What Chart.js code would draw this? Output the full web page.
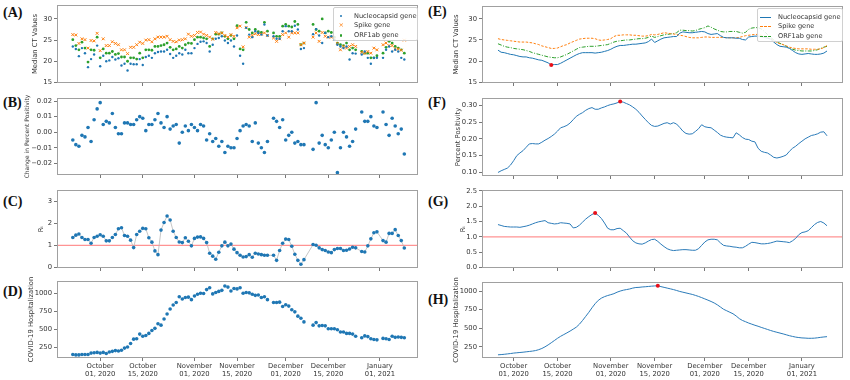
<!DOCTYPE html>
<html>
<head>
<meta charset="utf-8">
<script src="https://cdn.jsdelivr.net/npm/chart.js@4.4.0/dist/chart.umd.min.js"></script>
<style>
  html, body { margin: 0; padding: 0; background: #ffffff; }
  #wrap { position: relative; width: 850px; height: 380px; overflow: hidden; background: #fff; }
  canvas { position: absolute; }
  .lbl { position: absolute; font-family: "Liberation Serif", "Times New Roman", serif; font-weight: bold; font-size: 14px; color: #111; line-height: 14px; }
  .leg { position: absolute; background: rgba(255,255,255,0.85); border: 1px solid #d0d0d0; border-radius: 2px;
         font-family: "DejaVu Sans", sans-serif; font-size: 6.6px; color: #333; box-sizing: border-box; }
  .row { position: absolute; left: 0; height: 9px; line-height: 9px; white-space: nowrap; }
  .row .t { position: absolute; left: 20px; top: 0; }
  .mk { position: absolute; }
</style>
</head>
<body>
<div id="wrap">
  <div class="lbl" style="left:3px;top:6px">(A)</div>
  <div class="lbl" style="left:3px;top:96px">(B)</div>
  <div class="lbl" style="left:3px;top:195px">(C)</div>
  <div class="lbl" style="left:3px;top:285px">(D)</div>
  <div class="lbl" style="left:428px;top:5px">(E)</div>
  <div class="lbl" style="left:428px;top:96px">(F)</div>
  <div class="lbl" style="left:428px;top:195px">(G)</div>
  <div class="lbl" style="left:428px;top:293px">(H)</div>
</div>
<script>
// ---------------- DATA ----------------
// x positions: days relative to 2020-10-01
const TICK_DAYS = [0, 14, 31, 45, 61, 75, 92];
const TICK_LABELS = [["October","01, 2020"],["October","15, 2020"],["November","01, 2020"],["November","15, 2020"],["December","01, 2020"],["December","15, 2020"],["January","01, 2021"]];

// daily observations (left column), Sep 22 2020 .. Jan 9 2021
const daysObs = [-9,-8,-7,-6,-5,-4,-3,-2,-1,0,1,2,3,4,5,6,7,8,9,10,11,12,13,14,15,16,17,18,19,20,21,22,23,24,25,26,27,28,29,30,31,32,33,34,35,36,37,38,39,40,41,42,43,44,45,46,47,48,49,50,51,52,53,54,55,56,57,58,59,60,61,62,63,64,65,66,67,68,69,70,71,72,73,74,75,76,77,78,79,80,81,82,83,84,85,86,87,88,89,90,91,92,93,94,95,96,97,98,99,100];

const ctNucleocapsid = [23.5,22.9,21.2,23.1,21.9,18.6,20.5,21.6,23.7,18.8,21.3,20.0,20.2,21.0,20.4,20.7,19.0,19.4,17.8,19.4,19.3,19.3,20.5,19.1,21.0,21.3,20.8,21.9,22.2,22.3,22.3,22.7,21.7,20.8,21.3,21.9,21.6,22.7,21.9,21.9,23.1,24.1,24.6,24.7,24.3,22.3,23.9,25.3,25.5,25.9,24.9,24.3,24.9,23.5,26.1,21.3,19.4,27.9,26.3,25.7,27.1,26.7,26.3,28.7,26.1,null,25.9,25.3,25.3,27.1,28.3,27.1,27.1,28.4,27.5,22.9,23.1,null,null,26.4,27.6,26.1,24.3,26.7,25.7,25.9,25.1,23.9,23.5,23.1,23.5,20.4,21.9,21.8,null,21.6,22.3,20.8,19.4,20.8,20.8,null,20.8,22.7,23.5,22.3,22.7,22.3,20.8,20.4];
const ctSpike = [26.3,26.2,24.2,25.3,25.1,23.1,24.9,24.8,26.6,22.5,25.3,23.7,23.7,24.6,24.2,23.9,22.7,22.7,21.8,23.3,23.3,23.9,24.5,24.2,25.0,25.1,24.6,25.3,25.7,25.7,25.7,25.9,25.1,24.7,24.6,25.0,25.1,25.3,26.4,25.9,26.1,26.8,26.9,26.4,26.1,25.7,25.2,26.8,26.5,26.7,26.1,25.7,26.3,25.9,27.9,28.3,23.4,28.0,25.7,26.1,26.5,26.3,26.4,26.7,26.1,null,25.5,24.7,25.3,26.3,26.7,25.7,26.7,26.7,26.7,23.9,24.3,null,null,25.7,26.7,24.7,26.8,25.9,25.7,25.7,25.3,24.2,22.7,23.5,23.1,23.5,23.9,23.5,null,22.1,21.9,22.3,21.9,23.1,22.7,null,23.9,24.3,23.7,23.7,22.9,22.9,22.6,25.0];
const ctOrf1ab = [25.1,23.7,22.7,24.5,23.1,19.8,22.7,22.6,25.7,20.8,22.9,21.9,21.9,22.3,21.6,21.8,21.0,21.0,20.0,20.8,20.8,20.5,21.9,20.8,22.7,22.7,22.6,23.5,23.5,23.7,23.9,24.3,23.3,22.7,22.9,23.5,23.1,23.9,24.3,24.2,25.1,25.7,25.7,25.5,25.3,23.5,25.3,26.4,26.4,26.7,25.9,25.3,26.1,25.3,28.4,22.9,22.7,29.2,27.5,26.7,27.5,27.0,26.8,29.2,27.1,null,26.7,25.9,25.9,28.3,28.7,28.3,28.1,29.4,28.7,23.9,24.3,null,null,28.7,27.5,27.1,30.0,26.7,27.1,26.8,25.7,24.3,23.9,23.7,24.3,22.7,23.1,22.7,null,22.3,21.9,21.9,20.8,20.8,21.3,null,21.9,23.3,24.7,24.3,23.5,23.1,22.7,21.9];

const positivityChange = [-0.005,-0.008,-0.009,-0.002,-0.003,0.003,-0.006,0.008,0.015,0.019,0.005,0.007,0.006,0.012,0.003,-0.001,-0.001,0.006,0.006,0.005,0.005,0.008,0.010,0.009,0.001,0.005,0.005,0.008,0.012,0.006,0.003,0.010,0.002,0.004,0.005,-0.007,0.000,0.004,0.001,0.005,0.003,0.001,0.005,0.004,-0.005,-0.001,-0.006,-0.004,-0.009,-0.006,-0.013,-0.009,-0.010,-0.010,-0.004,0.001,0.004,0.005,0.004,-0.006,0.006,-0.007,-0.010,-0.013,-0.006,null,0.009,0.007,0.003,0.008,-0.005,-0.002,0.000,-0.007,-0.006,-0.008,-0.008,null,null,-0.011,0.019,-0.007,-0.002,-0.008,-0.010,-0.005,0.000,-0.026,-0.010,0.000,-0.003,-0.009,-0.006,0.002,null,0.013,0.007,0.007,0.010,0.004,0.003,null,0.013,0.005,-0.002,0.009,0.004,-0.001,0.002,-0.014];

const rtDaily = [1.36,1.47,1.52,1.36,1.27,1.27,1.10,1.36,1.42,1.49,1.42,1.21,1.21,1.36,1.50,1.76,1.81,1.45,1.42,1.24,0.90,1.50,1.65,1.78,1.76,1.35,1.15,0.75,0.58,1.70,2.05,2.34,2.16,1.65,1.36,1.16,1.13,1.35,1.19,0.98,1.32,1.38,1.39,1.32,1.13,0.64,0.51,0.37,0.69,0.98,1.15,0.98,1.06,0.83,0.67,0.55,0.47,0.49,0.58,0.46,0.64,0.61,0.58,0.55,0.55,null,0.55,0.32,0.77,1.10,1.29,1.27,0.96,0.60,0.32,0.14,0.35,null,null,1.04,1.01,0.89,0.81,0.77,0.70,0.67,0.81,0.86,0.86,0.77,0.78,0.84,0.92,0.89,null,0.72,0.70,0.98,1.30,1.58,1.62,null,1.22,1.15,1.55,1.55,1.72,1.45,1.22,0.88];

const hospDaily = [145,140,140,145,145,145,165,170,175,165,175,160,180,190,200,195,205,235,250,300,360,365,430,400,410,440,480,510,575,555,640,710,780,835,870,950,920,940,945,910,960,985,1000,995,1050,1075,990,1010,1025,1040,1100,1085,1030,1065,1060,1075,1000,1010,1005,985,970,975,940,950,910,null,870,870,875,815,840,820,770,740,680,650,600,null,null,555,590,545,550,545,505,505,505,490,460,460,440,440,430,400,null,380,405,395,365,355,350,null,370,365,355,400,385,390,385,380];

// smoothed series (right column), Sep 26 2020 .. Jan 9 2021
const daysSmooth = [-5,-4,-3,-2,-1,0,1,2,3,4,5,6,7,8,9,10,11,12,13,14,15,16,17,18,19,20,21,22,23,24,25,26,27,28,29,30,31,32,33,34,35,36,37,38,39,40,41,42,43,44,45,46,47,48,49,50,51,52,53,54,55,56,57,58,59,60,61,62,63,64,65,66,67,68,69,70,71,72,73,74,75,76,77,78,79,80,81,82,83,84,85,86,87,88,89,90,91,92,93,94,95,96,97,98,99,100];

const smoothNucleocapsid = [22.6,22.1,22.0,21.8,21.6,21.5,21.3,21.1,21.0,21.0,20.8,20.7,20.5,20.3,20.2,19.9,19.6,19.1,19.2,19.2,19.5,19.9,20.3,20.7,21.1,21.5,21.8,22.0,22.0,22.0,22.0,21.9,22.0,22.1,22.3,22.5,22.8,23.2,23.5,23.7,23.7,23.8,23.9,24.0,24.0,24.1,24.2,24.3,24.6,25.2,24.4,24.8,25.2,25.5,25.6,25.7,25.8,25.8,26.6,26.9,26.8,26.7,26.7,26.8,26.9,27.0,26.9,26.5,26.3,26.4,26.5,26.0,25.6,25.5,25.5,25.5,25.4,25.4,25.1,25.0,25.7,25.8,25.9,25.9,25.8,25.6,25.4,25.2,24.5,23.9,23.5,23.4,23.3,23.0,22.5,22.0,21.7,21.6,21.7,21.8,21.7,21.6,21.6,21.7,21.9,22.4];
const smoothSpike = [25.3,25.1,25.0,24.9,24.8,24.7,24.6,24.5,24.5,24.5,24.4,24.3,24.1,23.9,23.6,23.4,23.2,23.0,23.0,23.1,23.4,23.7,23.9,24.3,24.6,24.9,25.2,25.3,25.4,25.4,25.4,25.3,25.0,24.9,25.0,25.1,25.3,25.8,26.1,26.1,26.2,26.2,26.2,26.1,26.1,26.0,25.9,25.9,26.0,26.3,26.2,26.3,26.5,26.7,26.6,26.5,26.4,26.3,26.1,26.0,25.8,25.6,25.5,25.5,25.5,25.6,25.7,25.7,25.6,25.6,25.6,25.6,25.6,25.5,25.5,25.5,25.5,25.6,25.8,26.0,26.1,26.2,26.3,26.3,26.1,25.8,25.5,25.2,24.8,24.4,24.1,23.9,23.6,23.3,23.1,23.0,22.9,22.9,22.9,22.9,22.8,22.8,22.8,22.9,23.2,23.7];
const smoothOrf1ab = [24.1,23.8,23.5,23.3,23.2,23.0,22.9,22.8,22.7,22.5,22.3,22.0,21.8,21.6,21.4,21.2,21.0,20.9,20.8,20.8,21.0,21.3,21.6,22.0,22.4,22.8,23.2,23.3,23.4,23.5,23.5,23.5,23.6,23.7,23.8,23.9,24.2,24.5,24.7,24.8,24.9,25.0,25.0,25.1,25.2,25.3,25.3,25.4,25.6,25.9,25.6,25.8,26.0,26.2,26.3,26.4,26.5,26.7,27.3,27.3,27.2,27.2,27.1,27.2,27.5,27.7,27.9,28.3,28.0,27.6,27.3,27.0,26.9,26.9,27.0,27.0,27.0,26.8,26.6,26.8,27.5,27.8,27.9,27.9,27.6,27.0,26.3,25.6,25.0,24.5,24.2,23.9,23.5,23.1,22.8,22.6,22.5,22.4,22.4,22.4,22.4,22.5,22.7,23.0,23.3,23.5];

const percentPositivity = [0.100,0.105,0.109,0.113,0.122,0.135,0.150,0.158,0.165,0.175,0.185,0.186,0.185,0.185,0.190,0.196,0.201,0.207,0.214,0.223,0.233,0.236,0.240,0.247,0.257,0.267,0.273,0.278,0.285,0.290,0.293,0.288,0.288,0.292,0.295,0.299,0.302,0.304,0.307,0.311,0.309,0.305,0.301,0.295,0.288,0.279,0.268,0.258,0.248,0.240,0.237,0.238,0.242,0.246,0.248,0.244,0.248,0.244,0.234,0.223,0.216,0.214,0.215,0.222,0.230,0.242,0.236,0.234,0.233,0.226,0.219,0.211,0.207,0.205,0.204,0.203,0.218,0.212,0.204,0.199,0.198,0.193,0.191,0.172,0.163,0.160,0.158,0.152,0.145,0.143,0.145,0.148,0.152,0.163,0.172,0.178,0.186,0.193,0.200,0.205,0.210,0.212,0.215,0.220,0.221,0.209];

const rtSmooth = [1.40,1.37,1.34,1.33,1.32,1.32,1.32,1.31,1.33,1.35,1.38,1.42,1.46,1.49,1.51,1.53,1.46,1.44,1.42,1.43,1.46,1.45,1.44,1.42,1.29,1.31,1.38,1.48,1.58,1.66,1.73,1.78,1.70,1.60,1.45,1.28,1.23,1.23,1.27,1.28,1.20,1.12,0.99,0.87,0.80,0.77,0.76,0.80,0.86,0.91,0.92,0.85,0.76,0.68,0.61,0.57,0.55,0.56,0.57,0.58,0.58,0.57,0.56,0.56,0.61,0.72,0.83,0.90,0.92,0.92,0.90,0.80,0.72,0.70,0.69,0.67,0.66,0.64,0.64,0.69,0.76,0.82,0.81,0.79,0.77,0.77,0.78,0.80,0.83,0.86,0.85,0.84,0.83,0.81,0.87,0.95,1.07,1.14,1.16,1.20,1.30,1.40,1.47,1.50,1.45,1.36];

const hospSmooth = [143,146,150,155,160,166,170,174,178,183,188,193,200,212,228,250,276,305,335,365,392,415,438,462,488,515,555,605,660,715,775,830,875,905,925,940,952,965,985,1000,1012,1020,1028,1040,1048,1050,1055,1058,1062,1066,1069,1071,1060,1050,1040,1030,1020,1008,995,985,975,965,955,942,928,912,895,878,860,840,815,785,755,735,715,695,665,630,605,588,570,555,540,527,512,498,484,470,457,446,435,424,412,400,390,381,375,370,368,365,365,367,372,378,383,387];

const RT_THRESHOLD = 1;

const Y_TICKS = {
  ct: [15, 20, 25, 30],
  change: [-0.02, -0.01, 0, 0.01, 0.02],
  rt: [0, 1, 2, 3],
  hosp: [250, 500, 750, 1000],
  pos: [0.10, 0.15, 0.20, 0.25, 0.30],
  rtS: [0, 0.5, 1, 1.5, 2, 2.5]
};

// ---------------- STYLE / LAYOUT ----------------
const BLUE = '#1f77b4', ORANGE = '#ff7f0e', GREEN = '#2ca02c', RED = '#e8101a';
const REF_RED = 'rgba(255,40,40,0.5)';
const FONT = { family: 'DejaVu Sans', size: 6.8 };
const TXT = '#333';
const X_LEFT = { min: -14.2, max: 104.5 };
const X_RIGHT = { min: -10.1, max: 105.1 };
const PAD_TOP = 10, PAD_BOTTOM = 8;

const framePlugin = {
  id: 'frame',
  afterDraw(chart) {
    const a = chart.chartArea, ctx = chart.ctx;
    ctx.save();
    ctx.strokeStyle = '#a0a0a0';
    ctx.lineWidth = 1;
    ctx.strokeRect(Math.round(a.left) + 0.5, Math.round(a.top) + 0.5, Math.round(a.right - a.left) - 1, Math.round(a.bottom - a.top) - 1);
    ctx.restore();
  }
};

const wrap = document.getElementById('wrap');
const xy = (days, vals) => days.map((d, i) => ({ x: d, y: vals[i] }));

function extremum(days, vals, wantMax) {
  let bi = 0;
  vals.forEach((v, i) => { if (wantMax ? v > vals[bi] : v < vals[bi]) bi = i; });
  return [{ x: days[bi], y: vals[bi] }];
}

function panel(cfg) {
  const xh = cfg.xLabels ? 22 : 4;
  const pb = cfg.xLabels ? 0 : PAD_BOTTOM;
  const c = document.createElement('canvas');
  const w = 425, h = (cfg.bottom - cfg.top) + PAD_TOP + xh + pb;
  c.width = w; c.height = h;
  c.style.left = cfg.col + 'px';
  c.style.top = (cfg.top - PAD_TOP) + 'px';
  c.style.width = w + 'px'; c.style.height = h + 'px';
  wrap.appendChild(c);
  const xr = cfg.xRange;
  const titleFont = Object.assign({}, FONT, cfg.titleSize ? { size: cfg.titleSize } : {});
  const tHalf = titleFont.size * 1.2 / 2;
  new Chart(c, {
    type: 'scatter',
    data: { datasets: cfg.datasets },
    options: {
      responsive: false, animation: false, devicePixelRatio: 1,
      layout: { padding: { top: PAD_TOP, right: 7, left: 0, bottom: pb } },
      plugins: { legend: { display: false }, tooltip: { enabled: false } },
      scales: {
        x: {
          type: 'linear', min: xr.min, max: xr.max,
          afterBuildTicks: s => { s.ticks = TICK_DAYS.map(v => ({ value: v })); },
          afterFit: s => { s.height = xh; },
          ticks: { display: !!cfg.xLabels, autoSkip: false, maxRotation: 0, minRotation: 0, padding: 1, color: TXT, font: Object.assign({}, FONT, { lineHeight: 1.15 }),
                   callback: (v, i) => TICK_LABELS[i] },
          grid: { display: true, drawOnChartArea: false, drawTicks: true, tickLength: 3, color: '#555', lineWidth: 0.8 },
          border: { display: false }
        },
        y: {
          type: 'linear', min: cfg.yMin, max: cfg.yMax,
          afterBuildTicks: s => { s.ticks = cfg.yTicks.map(v => ({ value: v })); },
          afterFit: s => { s.width = 57; },
          ticks: { padding: 2, color: TXT, font: FONT, callback: cfg.yFmt },
          grid: { display: true, drawOnChartArea: false, drawTicks: true, tickLength: 3, color: '#555', lineWidth: 0.8 },
          border: { display: false },
          title: { display: true, text: cfg.yTitle, color: TXT, font: titleFont, padding: { top: cfg.titleX - tHalf, bottom: 0 } }
        }
      }
    },
    plugins: [framePlugin]
  });
}

const fmt = d => (v => { const s = Number(v).toFixed(d); return s.startsWith('-') ? '\u2212' + s.slice(1) : s; });
const fmtInt = v => String(v);
// reference line at Rt = 1 spanning the x range, as a two-point dataset
const thresholdDs = (xr) => ({ data: [{ x: xr.min, y: RT_THRESHOLD }, { x: xr.max, y: RT_THRESHOLD }], showLine: true,
  pointRadius: 0, borderColor: REF_RED, borderWidth: 1.2, order: 5 });

// ---- (A) ----
panel({
  col: 0, top: 5, bottom: 83, xRange: X_LEFT, yMin: 14.85, yMax: 33.3, yTicks: Y_TICKS.ct, yFmt: fmtInt,
  yTitle: 'Median CT Values', titleX: 35,
  datasets: [
    { data: xy(daysObs, ctNucleocapsid), pointStyle: 'circle', pointRadius: 1.2, backgroundColor: BLUE, borderColor: BLUE, borderWidth: 0 },
    { data: xy(daysObs, ctSpike), pointStyle: 'crossRot', pointRadius: 2, borderColor: ORANGE, backgroundColor: ORANGE, borderWidth: 1 },
    { data: xy(daysObs, ctOrf1ab), pointStyle: 'circle', pointRadius: 1.4, backgroundColor: GREEN, borderColor: GREEN, borderWidth: 0 }
  ]
});
// ---- (B) ----
panel({
  col: 0, top: 98, bottom: 175, xRange: X_LEFT, yMin: -0.0275, yMax: 0.022, yTicks: Y_TICKS.change, yFmt: fmt(2),
  yTitle: 'Change in Percent Positivity', titleX: 27.5, titleSize: 6.0,
  datasets: [
    { data: xy(daysObs, positivityChange), pointRadius: 1.8, backgroundColor: BLUE, borderColor: BLUE, borderWidth: 0 }
  ]
});
// ---- (C) ----
panel({
  col: 0, top: 190, bottom: 268, xRange: X_LEFT, yMin: -0.03, yMax: 3.53, yTicks: Y_TICKS.rt, yFmt: fmtInt,
  yTitle: 'R\u209C', titleX: 41,
  datasets: [
    { data: xy(daysObs, rtDaily), showLine: true, spanGaps: true, borderColor: '#b8b8b8', borderWidth: 0.8,
      pointRadius: 1.8, pointBackgroundColor: BLUE, pointBorderColor: BLUE, pointBorderWidth: 0, order: 1 },
    thresholdDs(X_LEFT)
  ]
});
// ---- (D) ----
panel({
  col: 0, top: 281, bottom: 358, xRange: X_LEFT, xLabels: true, yMin: 97, yMax: 1170, yTicks: Y_TICKS.hosp, yFmt: fmtInt,
  yTitle: 'COVID-19 Hospitalization', titleX: 31,
  datasets: [
    { data: xy(daysObs, hospDaily), pointRadius: 1.8, backgroundColor: BLUE, borderColor: BLUE, borderWidth: 0 }
  ]
});
// ---- (E) ----
const lineDs = (vals, color, dash) => ({ data: xy(daysSmooth, vals), showLine: true, pointRadius: 0, borderColor: color, borderWidth: 1, borderDash: dash || [] });
panel({
  col: 425, top: 6, bottom: 83, xRange: X_RIGHT, yMin: 14.85, yMax: 33.0, yTicks: Y_TICKS.ct, yFmt: fmtInt,
  yTitle: 'Median CT Values', titleX: 31,
  datasets: [
    { data: extremum(daysSmooth, smoothNucleocapsid, false), pointRadius: 2, backgroundColor: RED, borderWidth: 0, order: 0 },
    Object.assign(lineDs(smoothNucleocapsid, BLUE), { order: 1 }),
    Object.assign(lineDs(smoothSpike, ORANGE, [2.5, 1.5]), { order: 2 }),
    Object.assign(lineDs(smoothOrf1ab, GREEN, [4, 1.5, 1, 1.5]), { order: 3 })
  ]
});
// ---- (F) ----
panel({
  col: 425, top: 98, bottom: 176, xRange: X_RIGHT, yMin: 0.0895, yMax: 0.3215, yTicks: Y_TICKS.pos, yFmt: fmt(2),
  yTitle: 'Percent Positivity', titleX: 33,
  datasets: [
    { data: extremum(daysSmooth, percentPositivity, true), pointRadius: 2, backgroundColor: RED, borderWidth: 0, order: 0 },
    Object.assign(lineDs(percentPositivity, '#2b7bb9'), { order: 1 })
  ]
});
// ---- (G) ----
panel({
  col: 425, top: 190, bottom: 268, xRange: X_RIGHT, yMin: -0.02, yMax: 2.53, yTicks: Y_TICKS.rtS, yFmt: fmt(1),
  yTitle: 'R\u209C', titleX: 38.5,
  datasets: [
    { data: extremum(daysSmooth, rtSmooth, true), pointRadius: 2, backgroundColor: RED, borderWidth: 0, order: 0 },
    Object.assign(lineDs(rtSmooth, '#2b7bb9'), { order: 1 }),
    thresholdDs(X_RIGHT)
  ]
});
// ---- (H) ----
panel({
  col: 425, top: 282, bottom: 358, xRange: X_RIGHT, xLabels: true, yMin: 100, yMax: 1122, yTicks: Y_TICKS.hosp, yFmt: fmtInt,
  yTitle: 'COVID-19 Hospitalization', titleX: 31,
  datasets: [
    { data: extremum(daysSmooth, hospSmooth, true), pointRadius: 2, backgroundColor: RED, borderWidth: 0, order: 0 },
    Object.assign(lineDs(hospSmooth, '#2b7bb9'), { order: 1 })
  ]
});

// ---------------- LEGENDS (HTML text) ----------------
const LEGEND_NAMES = ['Nucleocapsid gene', 'Spike gene', 'ORF1ab gene'];
function legend(left, top, width, kinds) {
  const box = document.createElement('div');
  box.className = 'leg';
  box.style.left = left + 'px'; box.style.top = top + 'px';
  box.style.width = width + 'px'; box.style.height = '34px';
  LEGEND_NAMES.forEach((name, i) => {
    const r = document.createElement('div');
    r.className = 'row';
    r.style.top = (3.5 + i * 9.7) + 'px';
    r.style.width = '100%';
    const k = kinds[i];
    const m = document.createElement('div');
    m.className = 'mk';
    if (k.type === 'dot') {
      m.style.cssText = `left:${7 - k.r}px;top:${4.5 - k.r}px;width:${2 * k.r}px;height:${2 * k.r}px;border-radius:50%;background:${k.c}`;
    } else if (k.type === 'x') {
      m.style.cssText = `left:4.5px;top:0px;color:${k.c};font-size:6.5px;line-height:9px;font-family:'DejaVu Sans'`;
      m.textContent = '\u00D7';
    } else {
      m.style.cssText = `left:2px;top:4px;width:11px;height:0;border-top:1px ${k.dash} ${k.c}`;
    }
    r.appendChild(m);
    const t = document.createElement('span');
    t.className = 't';
    t.textContent = name;
    r.appendChild(t);
    box.appendChild(r);
  });
  wrap.appendChild(box);
}
legend(333, 7, 85, [{ type: 'dot', c: BLUE, r: 1.1 }, { type: 'x', c: ORANGE }, { type: 'dot', c: GREEN, r: 1.3 }]);
legend(757, 8, 86, [{ type: 'line', c: BLUE, dash: 'solid' }, { type: 'line', c: ORANGE, dash: 'dashed' }, { type: 'line', c: GREEN, dash: 'dashed' }]);
</script>
</body>
</html>
